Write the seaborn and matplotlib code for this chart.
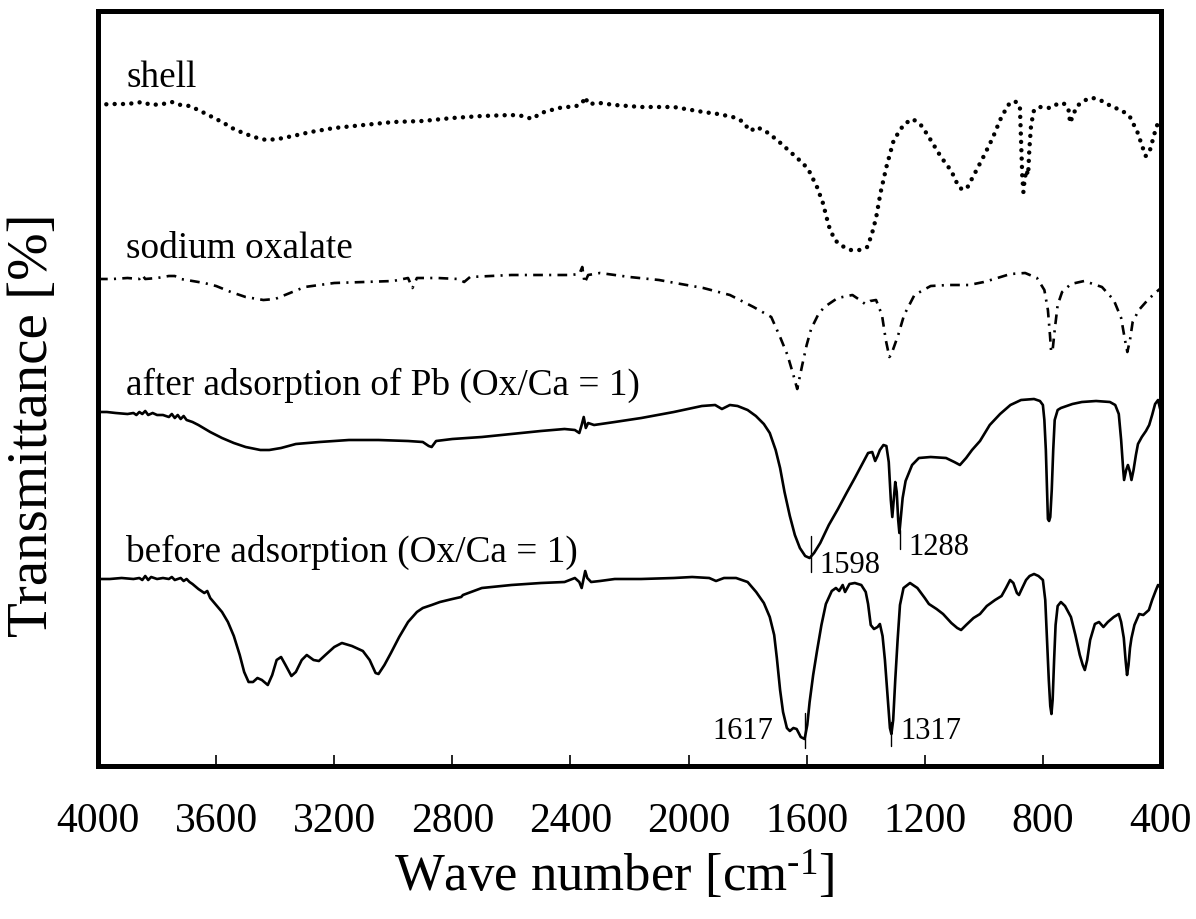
import matplotlib
matplotlib.use("Agg")
import matplotlib.pyplot as plt
import seaborn as sns
import pandas as pd

# ---------------- data (wave number [cm-1], relative transmittance, offset per trace) ----------------
shell_pts = [(4000,663),(3960,664),(3900,664),(3850,666),(3820,663),(3780,664),(3750,666),(3720,663),(3690,662),
             (3660,658),(3620,652),(3580,646),(3540,639),(3500,634),(3460,630),(3430,628),(3390,629),(3340,632),
             (3280,636),(3200,640),(3100,643),(3000,646),(2900,647),(2800,650),(2700,652),(2600,653),(2560,652),
             (2530,649),(2500,655),(2440,660),(2380,662),(2360,665),(2350,671),(2340,664),(2300,665),(2250,663),
             (2160,661),(2050,661),(1950,656),(1900,654),(1850,651),(1820,647),(1790,637),(1770,641),(1740,637),
             (1700,628),(1670,620),(1640,612),(1610,604),(1590,596),(1565,581),(1545,565),(1525,542),(1505,528),
             (1480,522),(1450,518),(1420,518),(1395,521),(1380,533),(1365,550),(1350,575),(1330,601),(1305,628),
             (1270,644),(1240,649),(1210,642),(1180,628),(1145,611),(1110,597),(1085,581),(1070,578),(1055,581),
             (1030,595),(1000,612),(970,630),(945,648),(918,663),(895,667),(878,662),(874,628),(870,593),(866,576),
             (862,588),(856,598),(850,593),(846,618),(840,643),(830,658),(810,661),(775,660),(745,665),(725,664),
             (712,657),(708,645),(700,651),(685,662),(650,669),(630,670),(600,667),(570,662),(530,657),(505,651),
             (480,636),(465,623),(452,612),(440,615),(428,628),(415,642),(405,646),(400,646)]

oxalate_pts = [(4000,489),(3950,489),(3900,490),(3860,489),(3850,493),(3840,489),(3800,490),(3760,492),(3740,492),
               (3720,489),(3680,487),(3640,485),(3600,482),(3550,476),(3500,471),(3440,468),(3400,469),(3350,475),
               (3300,481),(3200,485),(3100,486),(3000,487),(2950,490),(2935,480),(2920,490),(2850,490),(2780,489),
               (2760,486),(2740,491),(2600,493),(2500,493),(2400,493),(2370,494),(2360,501),(2352,485),(2340,493),
               (2300,495),(2200,491),(2100,488),(2045,485),(1950,480),(1860,473),(1780,461),(1720,451),(1690,431),
               (1665,413),(1645,393),(1632,379),(1615,403),(1600,423),(1585,439),(1560,454),(1540,461),(1495,470),
               (1445,473),(1420,468),(1402,464),(1385,467),(1365,468),(1345,453),(1332,428),(1320,411),(1314,413),
               (1302,423),(1290,433),(1270,453),(1235,473),(1180,482),(1120,483),(1050,483),(1000,486),(965,489),
               (910,494),(860,495),(820,490),(795,478),(783,458),(776,433),(772,416),(767,418),(760,438),(750,463),
               (735,476),(705,484),(660,487),(600,481),(560,468),(535,450),(522,428),(514,416),(505,428),(496,446),
               (475,458),(445,468),(420,475),(400,480)]

after_pts = [(4000,356),(3970,356),(3940,355),(3900,354),(3880,355),(3870,353),(3860,356),(3850,354),(3840,357),
             (3830,353),(3815,355),(3800,353),(3780,353),(3760,351),(3750,354),(3740,350),(3730,353),(3720,349),
             (3710,352),(3700,348),(3680,346),(3660,343),(3620,336),(3580,330),(3540,325),(3500,321),(3450,318),
             (3420,318),(3380,320),(3330,324),(3250,326),(3150,328),(3050,328),(2950,327),(2900,326),(2880,322),
             (2870,321),(2855,327),(2800,329),(2700,331),(2600,334),(2500,337),(2420,339),(2385,338),(2370,335),
             (2362,343),(2355,351),(2348,340),(2340,345),(2320,343),(2250,346),(2160,350),(2050,356),(1955,362),
             (1910,363),(1887,359),(1860,363),(1834,362),(1800,358),(1772,352),(1745,344),(1725,335),(1705,318),
             (1690,300),(1675,276),(1657,252),(1640,233),(1623,220),(1605,212),(1590,210),(1575,215),(1554,225),
             (1525,243),(1494,259),(1465,275),(1437,290),(1410,305),(1392,315),(1378,316),(1368,307),(1360,312),
             (1352,318),(1340,323),(1330,322),(1322,306),(1315,268),(1310,251),(1305,268),(1300,286),(1295,276),
             (1290,248),(1286,235),(1282,248),(1275,270),(1265,287),(1243,303),(1220,310),(1180,311),(1128,310),
             (1100,306),(1081,303),(1060,310),(1040,318),(1013,327),(980,343),(945,354),(910,363),(874,368),
             (830,369),(810,367),(800,363),(795,348),(790,318),(786,278),(783,249),(779,247),(775,251),(770,278),
             (765,318),(760,348),(750,358),(739,360),(700,364),(668,366),(620,367),(573,366),(555,363),(543,354),
             (535,328),(528,298),(525,288),(518,298),(512,303),(505,296),(500,288),(493,298),(485,313),(478,324),
             (465,331),(451,337),(440,343),(430,353),(420,364),(410,368),(403,359),(400,359)]

before_pts = [(4000,189),(3960,189),(3920,190),(3880,189),(3860,190),(3850,188),(3840,192),(3830,188),(3820,191),
              (3800,189),(3780,190),(3760,189),(3750,191),(3740,188),(3720,190),(3710,187),(3700,189),(3690,186),
              (3680,184),(3660,179),(3640,175),(3630,177),(3620,170),(3600,163),(3580,156),(3560,146),(3540,132),
              (3520,113),(3505,96),(3490,86),(3475,86),(3460,90),(3445,88),(3425,83),(3410,93),(3395,108),
              (3380,111),(3365,103),(3345,92),(3330,96),(3310,108),(3293,113),(3270,108),(3252,107),(3230,113),
              (3200,121),(3174,125),(3140,122),(3103,117),(3080,108),(3060,95),(3050,94),(3030,103),(3008,115),
              (2980,131),(2950,146),(2920,156),(2900,160),(2870,163),(2842,166),(2800,169),(2770,171),(2764,173),
              (2700,180),(2600,183),(2500,185),(2420,186),(2385,190),(2370,186),(2362,180),(2355,190),(2350,197),
              (2343,190),(2330,186),(2300,187),(2250,189),(2161,189),(2050,190),(1988,191),(1930,190),(1907,187),
              (1880,190),(1839,190),(1800,186),(1771,176),(1745,165),(1725,151),(1710,133),(1701,110),(1690,78),
              (1680,56),(1667,40),(1657,37),(1645,40),(1634,39),(1620,31),(1607,29),(1598,43),(1590,66),(1578,93),
              (1565,117),(1550,143),(1535,164),(1515,177),(1501,180),(1490,177),(1478,183),(1470,176),(1455,184),
              (1437,185),(1415,183),(1400,176),(1392,164),(1383,143),(1372,139),(1360,141),(1352,144),(1343,132),
              (1335,108),(1325,68),(1318,40),(1313,34),(1307,48),(1300,88),(1292,128),(1284,163),(1272,180),
              (1250,185),(1225,180),(1200,170),(1186,164),(1160,159),(1138,154),(1110,145),(1090,140),(1077,138),
              (1060,143),(1035,150),(1013,154),(990,162),(962,168),(940,172),(925,180),(911,188),(900,185),
              (888,175),(881,173),(870,180),(857,188),(845,192),(830,194),(815,192),(800,188),(792,168),(786,128),
              (780,88),(775,62),(771,54),(767,68),(762,108),(757,143),(750,162),(739,166),(725,162),(705,151),
              (690,133),(675,113),(665,103),(658,98),(650,108),(640,128),(624,144),(610,146),(595,141),(580,146),
              (560,151),(543,154),(535,146),(526,130),(520,108),(515,93),(510,103),(505,120),(500,130),(490,143),
              (474,154),(460,153),(441,158),(430,168),(417,178),(410,183),(403,181),(400,180)]

trace_labels = ["shell", "sodium oxalate", "after adsorption of Pb (Ox/Ca = 1)", "before adsorption (Ox/Ca = 1)"]
label_y = [681, 510, 373, 206]

peak_labels = ["1598", "1288", "1617", "1317"]
peak_wn = [1585, 1284, 1606, 1314]          # marker line positions
peak_line_y = [(196, 232), (219, 238), (20, 55), (22, 46)]
peak_text_wn = [1558, 1257, 1714, 1284]
peak_text_y = [195, 213, 29, 29]
peak_text_ha = ["left", "left", "right", "left"]

xticks = [4000, 3600, 3200, 2800, 2400, 2000, 1600, 1200, 800, 400]

# ---------------- style ----------------
sns.set_theme(style="white")
plt.rcParams["font.family"] = ["Liberation Serif", "DejaVu Serif"]
plt.rcParams["mathtext.fontset"] = "custom"
plt.rcParams["mathtext.rm"] = "Liberation Serif"
plt.rcParams["mathtext.it"] = "Liberation Serif:italic"
plt.rcParams["lines.scale_dashes"] = False
plt.rcParams["text.color"] = "black"
plt.rcParams["xtick.color"] = "black"

fig = plt.figure(figsize=(11.96, 9.19), dpi=100)
ax = fig.add_axes([98/1196, 1-766/919, (1161-98)/1196, (766-11)/919])

def frame(pts):
    return pd.DataFrame(pts, columns=["wn", "T"])

sns.lineplot(data=frame(shell_pts), x="wn", y="T", sort=False, estimator=None, ax=ax,
             color="black", lw=3.2, linestyle=(0, (0.01, 6.0)), dash_capstyle="round")
sns.lineplot(data=frame(oxalate_pts), x="wn", y="T", sort=False, estimator=None, ax=ax,
             color="black", lw=1.9, linestyle=(0, (7, 4.5, 1.5, 4.5)))
sns.lineplot(data=frame(after_pts), x="wn", y="T", sort=False, estimator=None, ax=ax,
             color="black", lw=1.9)
sns.lineplot(data=frame(before_pts), x="wn", y="T", sort=False, estimator=None, ax=ax,
             color="black", lw=1.9)

for lab, y in zip(trace_labels, label_y):
    ax.text(3905, y, lab, fontsize=26.8, ha="left", va="baseline", color="black")

for wn, (y0, y1) in zip(peak_wn, peak_line_y):
    ax.plot([wn, wn], [y0, y1], color="black", lw=1.0)
for lab, wn, y, ha in zip(peak_labels, peak_text_wn, peak_text_y, peak_text_ha):
    ax.text(wn, y, lab, fontsize=22, ha=ha, va="baseline", color="black")

ax.set_xlim(4000, 400)
ax.set_ylim(2, 757)
ax.set_xticks(xticks)
ax.set_xticklabels([str(t) for t in xticks])
ax.set_yticks([])
ax.set_xlabel("")
ax.set_ylabel("")
ax.tick_params(axis="x", direction="in", length=8, width=1.2, pad=26, labelsize=30,
               bottom=True, top=False, colors="black")
for s in ax.spines.values():
    s.set_visible(True)
    s.set_linewidth(3.6)
    s.set_color("black")

fig.text(614/1196, 1-876/919, r"Wave number [cm$^{\text{-}1}$]", fontsize=38,
         ha="center", va="center", color="black")
fig.text(33/1196, 1-425/919, "Transmittance [%]", fontsize=41, rotation=90,
         ha="center", va="center", color="black")

fig.savefig("out.png", dpi=100, facecolor="white")
